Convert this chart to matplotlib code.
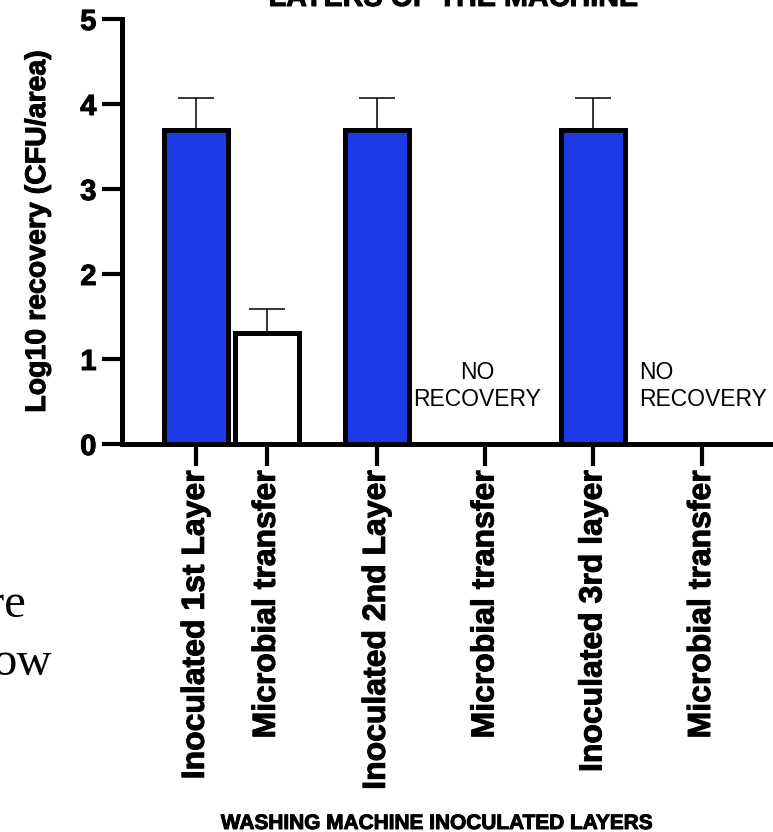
import numpy as np
import matplotlib.pyplot as plt
import matplotlib.patheffects as pe

plt.rcParams['font.family'] = 'Liberation Sans'

groups = ['Inoculated 1st Layer', 'Microbial transfer', 'Inoculated 2nd Layer',
          'Microbial transfer', 'Inoculated 3rd layer', 'Microbial transfer']
log_recovery = [3.70, 1.31, 3.70, 0.0, 3.70, 0.0]
sd = [0.37, 0.28, 0.37, 0.0, 0.37, 0.0]
inoculated = [True, False, True, False, True, False]
recovered = [True, True, True, False, True, False]

# prism-like spacing: first pair touching, the rest spread out
xpos = np.array([0, 1, 2.55, 4.08, 5.6, 7.13])
blue = '#1c3ae6'
heavy = [pe.withStroke(linewidth=0.7, foreground='black')]

fig = plt.figure(figsize=(7.73, 8.32), dpi=100)
ax = fig.add_axes([122/773, 388/832, 651/773, 425/832])

for i in range(len(groups)):
    if not recovered[i]:
        continue
    ax.bar(xpos[i], log_recovery[i], width=0.9,
           color=blue if inoculated[i] else 'white',
           edgecolor='black', linewidth=3.6, zorder=3)
    ax.errorbar(xpos[i], log_recovery[i], yerr=[[0], [sd[i]]], fmt='none',
                ecolor='black', elinewidth=1.1, capsize=13, capthick=1.1, zorder=2)

# no recovery notes
ax.text(xpos[3] - 0.12, 0.447, 'NO\nRECOVERY', ha='center', va='baseline',
        fontsize=16.5, linespacing=1.22)
ax.text(xpos[5] - 0.88, 0.447, 'NO\nRECOVERY', ha='left', va='baseline',
        fontsize=16.5, linespacing=1.22, multialignment='left')

ax.set_xlim(-1.04, 8.13)
ax.set_ylim(0, 5)
ax.set_yticks([0, 1, 2, 3, 4, 5])
ax.set_xticks(xpos)
ax.set_xticklabels(groups, rotation=90, fontsize=23, fontweight='bold')
for lab in ax.get_xticklabels():
    lab.set_path_effects(heavy)
for lab in ax.get_yticklabels():
    lab.set_fontsize(21)
    lab.set_fontweight('bold')
    lab.set_path_effects(heavy)

ax.spines['top'].set_visible(False)
ax.spines['right'].set_visible(False)
ax.spines['left'].set_linewidth(3.6)
ax.spines['bottom'].set_linewidth(3.6)
ax.tick_params(axis='y', length=14.4, width=3, pad=4)
ax.tick_params(axis='x', length=16, width=3, pad=3)

ax.set_ylabel('Log10 recovery (CFU/area)', fontsize=20.5, fontweight='bold',
              path_effects=heavy)
ax.yaxis.set_label_coords(-0.109, 0.5)

fig.text(453/773, 826/832, 'LAYERS OF THE MACHINE', ha='center', va='baseline',
         fontsize=20.7, fontweight='bold', path_effects=heavy)
fig.text(437/773, 3/832, 'WASHING MACHINE INOCULATED LAYERS', ha='center',
         va='baseline', fontsize=15, fontweight='bold', path_effects=heavy)

# bits of page text cut off at the left edge
fig.text(26/773, 215/832, 're', ha='right', va='baseline', fontsize=35,
         family='Liberation Serif')
fig.text(52/773, 157/832, 'ow', ha='right', va='baseline', fontsize=35,
         family='Liberation Serif')

fig.savefig('out.png', dpi=100)
